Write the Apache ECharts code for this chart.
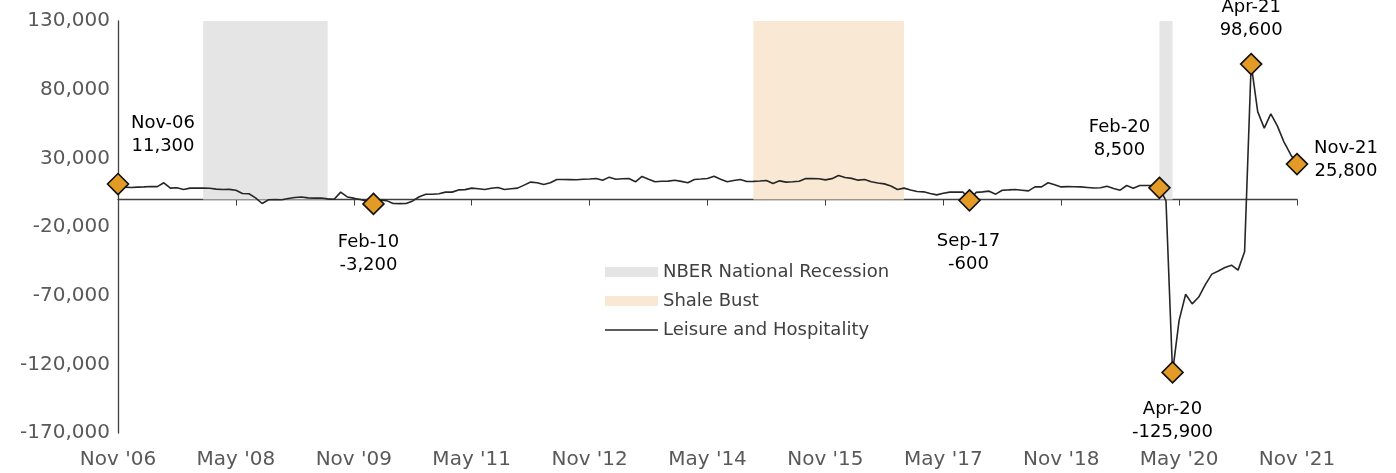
<!DOCTYPE html>
<html lang="en">
<head>
    <meta charset="UTF-8">
    <title>Leisure and Hospitality</title>
    <style>
        html, body {
            margin: 0;
            background: #fff;
        }

        #chart {
            width: 1396px;
            height: 473px;
        }
    </style>
</head>
<body>
    <div id="chart"></div>

    <script src="https://cdn.jsdelivr.net/npm/echarts@6/dist/echarts.min.js"></script>
    <script>

        // monthly categories, Nov 2006 .. Nov 2021
        var monthNames = ['Jan', 'Feb', 'Mar', 'Apr', 'May', 'Jun', 'Jul', 'Aug', 'Sep', 'Oct', 'Nov', 'Dec'];
        var startYear = 2006;
        var startMonth = 10;   // Nov
        var monthCount = 181;

        var months = [];
        for (var i = 0; i < monthCount; i++) {
            var m = (startMonth + i) % 12;
            var y = startYear + Math.floor((startMonth + i) / 12);
            months.push(monthNames[m] + '-' + String(y).slice(2));
        }

        // over-the-year change
        var leisure = [
            11300, 9000, 8800, 9000, 9200, 9500, 9400, 12200, 8300, 8600, 7300, 8300,
            8400, 8300, 8200, 7600, 7300, 7400, 6800, 4400, 4200, 1200, -2900, -200,
            -100, -200, 800, 1500, 1800, 1200, 1000, 1100, 500, 200, 5400, 1900,
            1000, 0, -1200, -3200, -400, -800, -2900, -3000, -2900, -1000, 2000, 3900,
            3900, 4200, 5400, 5400, 7000, 7200, 8300, 7800, 7300, 8200, 8800, 7300,
            7800, 8300, 10500, 12700, 12200, 11000, 12200, 14600, 14600, 14500, 14400, 14800,
            15000, 15300, 14100, 16300, 14800, 15100, 15300, 12900, 16800, 14800, 12900, 13300,
            13400, 14100, 13200, 12200, 14600, 14900, 15300, 17000, 14800, 12900, 13800, 14600,
            13100, 13200, 13500, 13900, 11700, 13600, 12700, 12900, 13300, 15300, 15200, 15100,
            14300, 15200, 17500, 16000, 15400, 14100, 14600, 12900, 12000, 11400, 9800, 7300,
            8300, 7000, 5800, 5600, 4400, 3400, 4600, 5400, 5500, 5400, -600, 5200,
            5600, 6100, 3900, 6800, 7000, 7300, 6800, 6300, 9200, 9200, 12200, 10700,
            9200, 9400, 9300, 9200, 8800, 8400, 8600, 9700, 8000, 6800, 10200, 8300,
            10200, 10200, 10200, 8500, -1000, -125900, -88000, -69000, -76000, -71000, -62000, -54300,
            -52000, -49500, -47800, -51400, -38000, 98600, 64000, 52000, 62400, 53600, 42000, 33000,
            25800
        ];

        // shaded periods [from, to]
        var nberPeriods = [['Dec-07', 'Jul-09'], ['Feb-20', 'Apr-20']];
        var shalePeriods = [['Dec-14', 'Nov-16']];

        // highlighted months (diamonds)
        var highlightMonths = ['Nov-06', 'Feb-10', 'Sep-17', 'Feb-20', 'Apr-20', 'Apr-21', 'Nov-21'];
        // where each label sits relative to its diamond
        var labelOffsets = [[45, -49], [-5, 50], [-1, 52], [-40, -49], [0, 48], [0, -45], [49, -4]];

        // y axis
        var yMin = -170000;
        var yMax = 130000;
        var yStep = 50000;

        var nberColor = '#e5e5e5';
        var shaleColor = '#f9e8d4';
        var lineColor = '#262626';
        var fontFamily = '"DejaVu Sans", sans-serif';

        function fmt(n) {
            return n.toLocaleString('en-US');
        }

        // shaded columns from 0 up to the top of the axis
        function areaData(periods, color) {
            return periods.map(function (p) {
                return [
                    { xAxis: p[0], yAxis: 0, itemStyle: { color: color } },
                    { xAxis: p[1], yAxis: yMax }
                ];
            });
        }

        var highlightData = highlightMonths.map(function (m, k) {
            var idx = months.indexOf(m);
            return {
                value: [m, leisure[idx]],
                label: { offset: labelOffsets[k] }
            };
        });

        var myChart = echarts.init(document.getElementById('chart'));

        var option = {
            animation: false,
            textStyle: { fontFamily: fontFamily },
            grid: {
                left: 118,
                right: 99,
                top: 21,
                bottom: 40
            },
            legend: {
                orient: 'vertical',
                left: 605,
                top: 263,
                padding: 0,
                itemWidth: 53,
                itemHeight: 10,
                itemGap: 11,
                textStyle: { fontSize: 18, color: '#404040', fontFamily: fontFamily },
                data: [
                    { name: 'NBER National Recession', icon: 'rect' },
                    { name: 'Shale Bust', icon: 'rect' },
                    { name: 'Leisure and Hospitality', icon: 'path://M0,0H53V1.6H0Z' }
                ]
            },
            xAxis: [{
                // the zero line with its ticks
                type: 'category',
                data: months,
                boundaryGap: false,
                axisLine: { onZero: true, lineStyle: { color: '#404040', width: 1.3 } },
                axisTick: { show: true, interval: 17, length: 6, lineStyle: { color: '#404040' } },
                axisLabel: { show: false },
                splitLine: { show: false }
            }, {
                // labels along the bottom
                type: 'category',
                data: months,
                boundaryGap: false,
                position: 'bottom',
                axisLine: { show: false },
                axisTick: { show: false },
                axisLabel: {
                    interval: 17,
                    margin: 17,
                    fontSize: 20,
                    color: '#595959',
                    fontFamily: fontFamily,
                    formatter: function (v) {
                        var p = v.split('-');
                        return p[0] + " '" + p[1];
                    }
                }
            }],
            yAxis: {
                type: 'value',
                min: yMin,
                max: yMax,
                interval: yStep,
                axisLine: { show: true, lineStyle: { color: '#404040', width: 1.3 } },
                axisTick: { show: false },
                splitLine: { show: false },
                axisLabel: {
                    fontSize: 20,
                    color: '#595959',
                    margin: 8,
                    fontFamily: fontFamily,
                    formatter: fmt
                }
            },
            series: [{
                // legend entries only; the shading itself is a markArea on the line
                name: 'NBER National Recession',
                type: 'bar',
                data: [],
                itemStyle: { color: nberColor }
            }, {
                name: 'Shale Bust',
                type: 'bar',
                data: [],
                itemStyle: { color: shaleColor }
            }, {
                name: 'Leisure and Hospitality',
                type: 'line',
                data: leisure,
                symbol: 'none',
                z: 3,
                lineStyle: { color: lineColor, width: 1.6 },
                itemStyle: { color: lineColor },
                markArea: {
                    silent: true,
                    z: 1,
                    data: areaData(nberPeriods, nberColor).concat(areaData(shalePeriods, shaleColor))
                }
            }, {
                name: 'highlights',
                type: 'scatter',
                data: highlightData,
                symbol: 'diamond',
                symbolSize: 21,
                z: 4,
                itemStyle: { color: '#e39b26', borderColor: '#111', borderWidth: 1.6, opacity: 1 },
                label: {
                    show: true,
                    position: 'inside',
                    align: 'center',
                    verticalAlign: 'middle',
                    fontSize: 18,
                    lineHeight: 23,
                    color: '#000',
                    fontFamily: fontFamily,
                    formatter: function (params) {
                        return params.value[0] + '\n' + fmt(params.value[1]);
                    }
                }
            }]
        };

        myChart.setOption(option);

    </script>
</body>
</html>
